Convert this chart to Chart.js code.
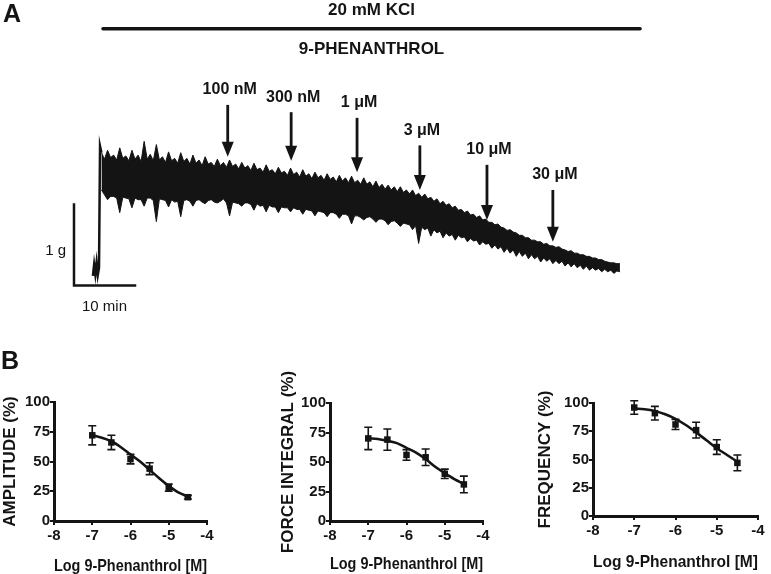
<!DOCTYPE html>
<html><head><meta charset="utf-8">
<script src="https://cdn.jsdelivr.net/npm/chart.js@4.4.0/dist/chart.umd.min.js"></script>
<style>
html,body{margin:0;padding:0;background:#fff;}
#wrap{position:relative;width:771px;height:574px;overflow:hidden;background:#fff;}
canvas{position:absolute;}
</style></head><body>
<div id="wrap">
<canvas id="cA" width="771" height="330" style="left:0;top:0"></canvas>
<canvas id="c1" width="250" height="240" style="left:0;top:340px"></canvas>
<canvas id="c2" width="250" height="240" style="left:278px;top:340px"></canvas>
<canvas id="c3" width="236" height="240" style="left:535px;top:340px"></canvas>
</div>
<script>
// ---------- Panel A data (time in min, force in g) ----------
const traceStart = 4.5;   // minutes, first envelope reading of the KCl-contracted trace
const traceStep = 0.5;    // minutes between envelope readings
const traceTop = [
  1.64,1.56, 1.67,1.58, 1.61,1.55, 1.70,1.57, 1.60,1.54, 1.67,1.56, 1.61,1.53, 1.78,1.56, 1.62,1.54, 1.74,1.55,
  1.59,1.52, 1.65,1.54, 1.57,1.51, 1.64,1.53, 1.57,1.50, 1.61,1.51, 1.55,1.48, 1.59,1.50, 1.52,1.47, 1.56,1.48,
  1.52,1.46, 1.55,1.47, 1.50,1.44, 1.52,1.45, 1.48,1.42, 1.51,1.43, 1.45,1.40, 1.49,1.41, 1.43,1.38, 1.46,1.39,
  1.41,1.36, 1.45,1.37, 1.40,1.34, 1.43,1.35, 1.38,1.32, 1.40,1.33, 1.36,1.30, 1.38,1.31, 1.34,1.28, 1.36,1.29,
  1.33,1.27, 1.35,1.27, 1.30,1.25, 1.33,1.25, 1.28,1.22, 1.29,1.21, 1.25,1.19, 1.24,1.18, 1.22,1.16, 1.22,1.15,
  1.18,1.13, 1.18,1.11, 1.14,1.09, 1.13,1.07, 1.09,1.04, 1.07,1.01, 1.04,0.99, 1.01,0.96, 0.98,0.93, 0.94,0.90,
  0.92,0.87, 0.88,0.84, 0.86,0.81, 0.82,0.78, 0.78,0.75, 0.76,0.72, 0.71,0.68, 0.69,0.66, 0.65,0.62, 0.62,0.59,
  0.59,0.56, 0.56,0.54, 0.54,0.51, 0.52,0.49, 0.49,0.47, 0.48,0.45, 0.44,0.42, 0.43,0.40, 0.40,0.38, 0.38,0.36,
  0.36,0.34, 0.34,0.32, 0.32,0.30, 0.29,0.28, 0.28,0.27, 0.27];
const traceBottom = [
  1.18,1.12, 1.06,1.10, 1.10,1.08, 0.90,1.09, 1.08,1.07, 0.96,1.08, 1.06,1.06, 0.98,1.08, 1.08,1.05, 0.79,1.07,
  1.06,1.05, 0.97,1.06, 1.03,1.04, 0.85,1.05, 1.06,1.04, 0.98,1.05, 1.06,1.03, 1.01,1.05, 1.06,1.03, 1.02,1.04,
  1.07,1.02, 0.86,1.03, 1.02,1.01, 0.98,1.02, 1.02,1.00, 0.93,1.01, 0.98,0.99, 0.91,0.99, 0.97,0.97, 0.90,0.97,
  0.96,0.96, 0.91,0.96, 0.94,0.94, 0.88,0.94, 0.93,0.92, 0.86,0.92, 0.91,0.90, 0.85,0.90, 0.90,0.88, 0.83,0.88,
  0.88,0.86, 0.76,0.86, 0.86,0.84, 0.81,0.84, 0.85,0.82, 0.78,0.82, 0.82,0.80, 0.75,0.79, 0.80,0.77, 0.73,0.77,
  0.76,0.75, 0.69,0.74, 0.52,0.72, 0.69,0.71, 0.61,0.69, 0.65,0.67, 0.59,0.65, 0.61,0.63, 0.56,0.62, 0.59,0.60,
  0.54,0.58, 0.55,0.56, 0.50,0.54, 0.51,0.52, 0.46,0.50, 0.45,0.48, 0.41,0.46, 0.40,0.44, 0.36,0.42, 0.36,0.40,
  0.33,0.38, 0.33,0.36, 0.29,0.34, 0.30,0.33, 0.27,0.31, 0.27,0.30, 0.24,0.28, 0.23,0.27, 0.22,0.25, 0.20,0.24,
  0.19,0.22, 0.19,0.21, 0.17,0.20, 0.17,0.19, 0.15,0.18, 0.17];
const preTime  = [3.1, 3.3, 3.5, 3.7, 3.9, 4.1, 4.27, 4.5];
const preForce = [0.12,0.26,0.14,0.28,0.13,0.22,1.72,1.64];
const scaleBarTime  = [0, 0, 10];
const scaleBarForce = [1, 0, 0];
const kclTime  = [4.75, 92.8];
const kclLevel = 3.17;
const doseLabels = ['100 nM','300 nM','1 \u03bcM','3 \u03bcM','10 \u03bcM','30 \u03bcM'];
const doseTimes  = [25.2, 35.6, 46.4, 56.7, 67.7, 78.5];
const arrowTopG  = [2.23, 2.14, 2.07, 1.73, 1.49, 1.18];
const arrowTipG  = [1.59, 1.54, 1.40, 1.18, 0.81, 0.54];

// ---------- Panel B data ----------
const logConc = [-7, -6.5, -6, -5.5, -5, -4.5];
const amplitudeMean = [72, 66, 52, 44, 28, 20];
const amplitudeSem  = [8, 6, 4, 5, 3, 1.5];
const forceMean = [70, 69, 56, 54, 40, 31];
const forceSem  = [9.5, 9, 4.5, 7, 4, 7];
const freqMean = [96, 91, 81, 76, 61, 47];
const freqSem  = [6, 6, 4.5, 7, 6.5, 7];
const fitX = [-7, -6.75, -6.5, -6.25, -6, -5.75, -5.5, -5.25, -5, -4.75, -4.5];
const amplitudeFit = [72, 70, 67, 62, 56, 50, 43, 36, 29.5, 24, 20.5];
const forceFit = [70, 69.5, 68, 66, 62, 58, 52.5, 46, 40.5, 35.5, 31.5];
const freqFit = [95, 94.5, 93, 90, 86, 80.5, 74, 67, 60, 54, 48];
const xTicks = [-8, -7, -6, -5, -4];
const yTicks = [0, 25, 50, 75, 100];

const FONT = "'Liberation Sans', Arial, Helvetica, sans-serif";
const INK = '#141414';

// ---------- Panel A ----------
const pts = (xs, ys) => xs.map((x, i) => ({x: x, y: ys[i]}));
const traceTimes = traceTop.map((_, i) => traceStart + i * traceStep);

const annotA = {
  id: 'annotA',
  afterDatasetsDraw(chart) {
    const ctx = chart.ctx, xs = chart.scales.x, ys = chart.scales.y;
    ctx.save();
    ctx.fillStyle = INK; ctx.strokeStyle = INK;
    ctx.font = 'bold 25px ' + FONT; ctx.textAlign = 'left'; ctx.textBaseline = 'middle';
    ctx.fillText('A', 3, 15);
    const midX = (xs.getPixelForValue(kclTime[0]) + xs.getPixelForValue(kclTime[1])) / 2;
    const ly = ys.getPixelForValue(kclLevel);
    ctx.font = 'bold 17px ' + FONT; ctx.textAlign = 'center';
    ctx.fillText('20 mM KCl', midX, ly - 18);
    ctx.fillText('9-PHENANTHROL', midX, ly + 21);
    ctx.font = 'bold 16px ' + FONT;
    doseTimes.forEach((t, i) => {
      const x = xs.getPixelForValue(t);
      const y0 = ys.getPixelForValue(arrowTopG[i]);
      const y1 = ys.getPixelForValue(arrowTipG[i]);
      ctx.lineWidth = 2.8;
      ctx.beginPath(); ctx.moveTo(x, y0); ctx.lineTo(x, y1 - 10); ctx.stroke();
      ctx.beginPath(); ctx.moveTo(x - 6, y1 - 15); ctx.lineTo(x + 6, y1 - 15); ctx.lineTo(x, y1); ctx.closePath(); ctx.fill();
      ctx.fillText(doseLabels[i], x + 2, y0 - 15);
    });
    ctx.font = '15px ' + FONT;
    const bx = xs.getPixelForValue(scaleBarTime[0]);
    const by0 = ys.getPixelForValue(0), by1 = ys.getPixelForValue(scaleBarForce[0]);
    ctx.textAlign = 'right';
    ctx.fillText('1 g', bx - 8, (by0 + by1) / 2 + 6);
    ctx.textAlign = 'center';
    ctx.fillText('10 min', (bx + xs.getPixelForValue(scaleBarTime[2])) / 2, by0 + 21);
    ctx.restore();
  }
};

new Chart(document.getElementById('cA'), {
  type: 'line',
  data: { datasets: [
    { data: pts(traceTimes, traceTop), borderColor: INK, backgroundColor: INK, borderWidth: 1, pointRadius: 0, fill: '+1', tension: 0 },
    { data: pts(traceTimes, traceBottom), borderColor: INK, borderWidth: 1, pointRadius: 0, fill: false, tension: 0 },
    { data: pts(preTime, preForce), borderColor: INK, borderWidth: 2.5, pointRadius: 0, fill: false, tension: 0 },
    { data: pts(scaleBarTime, scaleBarForce), borderColor: INK, borderWidth: 2.5, pointRadius: 0, fill: false, tension: 0, borderCapStyle: 'square' },
    { data: pts(kclTime, [kclLevel, kclLevel]), borderColor: INK, borderWidth: 3.5, pointRadius: 0, fill: false, borderCapStyle: 'round' }
  ]},
  options: {
    responsive: false, animation: false, events: [],
    plugins: { legend: { display: false }, tooltip: { enabled: false } },
    layout: { padding: 0 },
    scales: {
      x: { type: 'linear', display: false, min: -12.131, max: 114.262 },
      y: { type: 'linear', display: false, min: -0.549, max: 3.525 }
    }
  },
  plugins: [annotA]
});

// ---------- Panel B ----------
const errorBars = {
  id: 'errorBars',
  afterDatasetsDraw(chart, args, opts) {
    const ctx = chart.ctx, ys = chart.scales.y;
    const meta = chart.getDatasetMeta(1);
    const errs = chart.data.datasets[1].errors;
    ctx.save();
    ctx.strokeStyle = INK; ctx.lineWidth = 1.6;
    meta.data.forEach((el, i) => {
      const v = chart.data.datasets[1].data[i].y;
      const yt = ys.getPixelForValue(v + errs[i]), yb = ys.getPixelForValue(v - errs[i]);
      ctx.beginPath();
      ctx.moveTo(el.x, yt); ctx.lineTo(el.x, yb);
      ctx.moveTo(el.x - 4, yt); ctx.lineTo(el.x + 4, yt);
      ctx.moveTo(el.x - 4, yb); ctx.lineTo(el.x + 4, yb);
      ctx.stroke();
    });
    if (opts.letter) {
      ctx.fillStyle = INK; ctx.font = 'bold 25px ' + FONT; ctx.textAlign = 'left'; ctx.textBaseline = 'middle';
      ctx.fillText(opts.letter, 1, 22);
    }
    ctx.restore();
  }
};

function doseChart(id, yTitle, mean, sem, fit, geo, letter) {
  const H = 240, top0 = 340;
  return new Chart(document.getElementById(id), {
    type: 'scatter',
    data: { datasets: [
      { type: 'line', data: pts(fitX, fit), borderColor: INK, borderWidth: 2.6, pointRadius: 0, fill: false, cubicInterpolationMode: 'monotone' },
      { data: pts(logConc, mean), errors: sem, pointStyle: 'rect', pointRadius: 4.6, backgroundColor: INK, borderWidth: 0 }
    ]},
    options: {
      responsive: false, animation: false, events: [],
      plugins: { legend: { display: false }, tooltip: { enabled: false }, errorBars: { letter: letter } },
      layout: { padding: { top: geo.top - top0, left: 0, bottom: 0, right: geo.canvasW - (geo.right - geo.canvasL) } },
      scales: {
        x: {
          type: 'linear', min: xTicks[0], max: xTicks[xTicks.length - 1],
          afterBuildTicks: s => { s.ticks = xTicks.map(v => ({ value: v })); },
          afterFit: s => { s.height = H - (geo.bottom - top0); },
          ticks: { color: INK, font: { family: FONT, size: 15, weight: 'bold' }, padding: 2, maxRotation: 0 },
          grid: { display: true, drawOnChartArea: false, drawTicks: true, tickLength: 4, color: INK, lineWidth: 2 },
          border: { display: true, color: INK, width: 3 },
          title: { display: true, text: 'Log 9-Phenanthrol [M]', color: INK, font: { family: FONT, size: 17, weight: 'bold' }, padding: { top: 0, bottom: geo.titlePad } }
        },
        y: {
          type: 'linear', min: yTicks[0], max: yTicks[yTicks.length - 1],
          afterBuildTicks: s => { s.ticks = yTicks.map(v => ({ value: v })); },
          afterFit: s => { s.width = geo.left - geo.canvasL; },
          ticks: { color: INK, font: { family: FONT, size: 15, weight: 'bold' }, padding: 0 },
          grid: { display: true, drawOnChartArea: false, drawTicks: true, tickLength: 4, color: INK, lineWidth: 2 },
          border: { display: true, color: INK, width: 3 },
          title: { display: true, text: yTitle, color: INK, font: { family: FONT, size: 17, weight: 'bold' }, padding: { top: 0, bottom: 0 } }
        }
      }
    },
    plugins: [errorBars]
  });
}

doseChart('c1', 'AMPLITUDE (%)', amplitudeMean, amplitudeSem, amplitudeFit,
  { canvasL: 0, canvasW: 250, left: 54, right: 207, top: 402, bottom: 521, titlePad: 3 }, 'B');
doseChart('c2', 'FORCE INTEGRAL (%)', forceMean, forceSem, forceFit,
  { canvasL: 278, canvasW: 250, left: 330, right: 483, top: 403, bottom: 521, titlePad: 5 }, null);
doseChart('c3', 'FREQUENCY (%)', freqMean, freqSem, freqFit,
  { canvasL: 535, canvasW: 236, left: 593, right: 758, top: 403, bottom: 516, titlePad: 7 }, null);
</script>
</body></html>
